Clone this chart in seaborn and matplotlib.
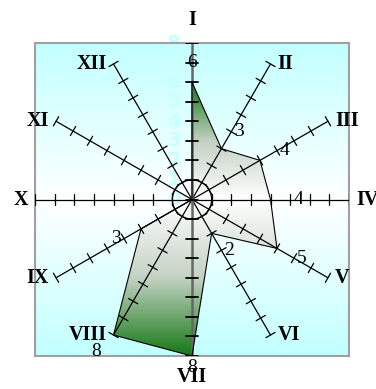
import numpy as np
import matplotlib
matplotlib.use("Agg")
import matplotlib.pyplot as plt
import seaborn as sns
from matplotlib.colors import LinearSegmentedColormap
from matplotlib.patches import Polygon, Circle

# data: one value per clock hour
spokes = ["I", "II", "III", "IV", "V", "VI", "VII", "VIII", "IX", "X", "XI", "XII"]
values = [6, 3, 4, 4, 5, 2, 8, 8, 3, 0, 0, 0]
scale_ticks = [0, 1, 2, 3, 4, 5, 6, 7, 8]
rmax = 8

sns.set_style("white")

fig = plt.figure(figsize=(3.76, 3.89), dpi=100)
ax = fig.add_axes([35 / 376, 33 / 389, 314 / 376, 313 / 389])
ax.set_xlim(-rmax, rmax)
ax.set_ylim(-rmax, rmax)
ax.set_xticks([])
ax.set_yticks([])
for s in ax.spines.values():
    s.set_color("#a0a0a0")
    s.set_linewidth(1.5)
    s.set_visible(True)

# background: cyan at top/bottom fading to white at the middle
yy = np.linspace(rmax, -rmax, 300)
bg = np.tile(np.abs(yy)[:, None] / rmax, (1, 2))
bg_cmap = LinearSegmentedColormap.from_list("bg", ["#ffffff", "#c2ffff"])
ax.imshow(bg, cmap=bg_cmap, extent=[-rmax, rmax, -rmax, rmax], aspect="auto",
          vmin=0, vmax=1, zorder=0)

angles = np.deg2rad(np.arange(12) * 30)
vals = np.array(values, dtype=float)
px = vals * np.sin(angles)
py = vals * np.cos(angles)

# gradient fill clipped to the polygon
top, bottom = vals[0], vals[6]
grad = np.where(yy >= 0, yy / top, -yy / bottom)
grad = np.tile(np.clip(grad, 0, 1)[:, None], (1, 2))
fill_cmap = LinearSegmentedColormap.from_list("fill", ["#ffffff", "#c4d2c4", "#167816"])
poly = Polygon(np.column_stack([px, py]), closed=True, transform=ax.transData,
               facecolor="none", edgecolor="none")
ax.add_patch(poly)
im = ax.imshow(grad, cmap=fill_cmap, extent=[-rmax, rmax, -rmax, rmax],
               aspect="auto", vmin=0, vmax=1, zorder=1)
im.set_clip_path(poly)

# spokes with cross ticks
tl = 0.27
for k, a in enumerate(angles):
    if k % 3 == 0:
        continue
    dx, dy = np.sin(a), np.cos(a)
    ax.plot([0, rmax * dx], [0, rmax * dy], color="black", lw=0.9, zorder=3)
    for r in range(1, rmax + 1):
        cx, cy = r * dx, r * dy
        ax.plot([cx - tl * dy, cx + tl * dy], [cy + tl * dx, cy - tl * dx],
                color="black", lw=0.9, zorder=3)

# horizontal axis
ax.plot([-rmax, rmax], [0, 0], color="black", lw=0.9, zorder=3)
for r in range(-rmax, rmax + 1):
    ax.plot([r, r], [-tl, tl], color="black", lw=0.9, zorder=3)

# vertical axis
ax.plot([0, 0], [-rmax, rmax], color="#666666", lw=1.8, zorder=3)
for r in range(-rmax, rmax + 1):
    ax.plot([-0.3, 0.3], [r, r], color="black", lw=1.3, zorder=3)

ax.add_patch(Circle((0, 0), 1.0, facecolor="none", edgecolor="black", lw=0.9, zorder=3))

# polygon outline
ox = np.append(px, px[0])
oy = np.append(py, py[0])
sns.lineplot(x=ox, y=oy, sort=False, estimator=None, color="black", lw=0.8,
             ax=ax, zorder=4)

# scale labels along the vertical axis
for t in scale_ticks:
    ax.text(-0.92, t, str(t), color="#c8ffff", fontsize=14, fontweight="bold",
            family="DejaVu Sans", ha="center", va="center", zorder=2)

# value labels
for k, (a, v) in enumerate(zip(angles, vals)):
    if v == 0:
        continue
    r = v + 1
    x, y = r * np.sin(a), r * np.cos(a)
    if abs(x) < 1e-6:
        ha, va, off = "center", ("center" if y > 0 else "bottom"), (0, 0)
    elif x > 0:
        ha, va, off = "left", "center", (3, 0)
    else:
        ha, va, off = "right", "center", (-3, 0)
    ax.annotate(f"{v:g}", (x, y), xytext=off, textcoords="offset pixels",
                ha=ha, va=va, fontsize=14, family="Liberation Serif",
                color="black", zorder=5, annotation_clip=False)

# hour labels
for k, (a, lab) in enumerate(zip(angles, spokes)):
    x, y = rmax * np.sin(a), rmax * np.cos(a)
    if k == 0:
        ha, off = "center", (0, 23)
    elif k == 6:
        ha, off = "center", (0, -21)
    elif x > 0:
        ha, off = "left", (7, 0)
    else:
        ha, off = "right", (-7, 0)
    ax.annotate(lab, (x, y), xytext=off, textcoords="offset pixels", ha=ha,
                va="center", fontsize=14.5, fontweight="bold",
                family="Liberation Serif", color="black", annotation_clip=False)

fig.savefig("out.png", dpi=100)
